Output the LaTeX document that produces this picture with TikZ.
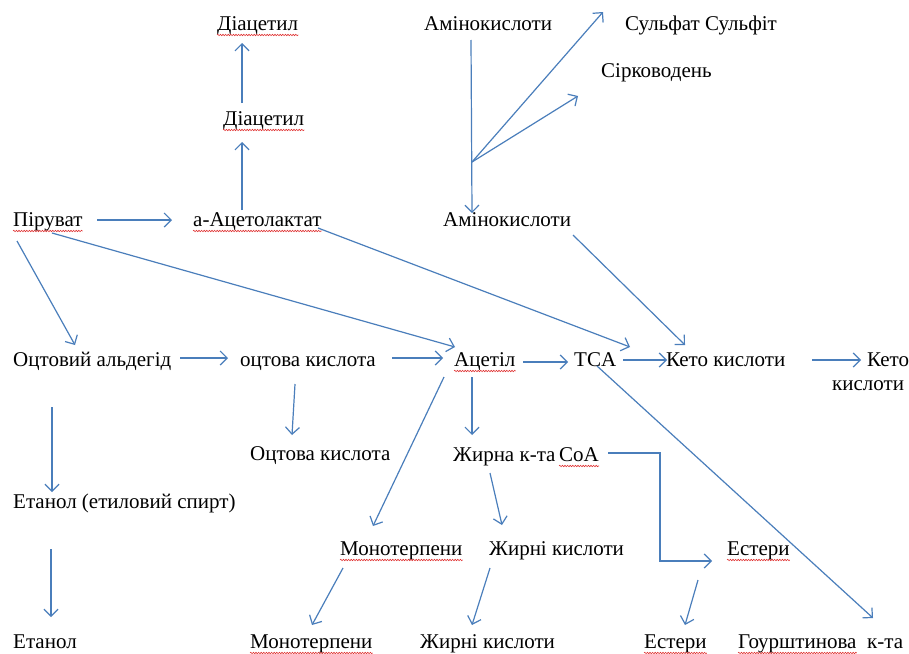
\documentclass[tikz,border=0pt]{standalone}
\usepackage{fontspec}
\setmainfont{Liberation Serif}
\usetikzlibrary{arrows.meta,decorations.pathmorphing}
\definecolor{linkblue}{HTML}{4A7EBB}
\definecolor{spellred}{HTML}{E03030}
\begin{document}
\begin{tikzpicture}[x=1pt,y=-1pt,
  lbl/.style={anchor=base west,inner sep=0pt,font=\fontsize{21}{24}\selectfont},
  link/.style={draw=linkblue,line width=1.2pt},
  arr/.style={link,-{Straight Barb[length=7pt,width=14pt]}},
  spell/.style={draw=spellred,line width=0.6pt,decorate,
    decoration={snake,amplitude=0.7pt,segment length=2.6pt}}]
\newcommand\spellmark[1]{\draw[spell] ([shift={(0,5)}]#1.base west) -- ([shift={(0,5)}]#1.base east);}
\fill[white] (0,0) rectangle (909,653);
\useasboundingbox (0,0) rectangle (909,653);

% labels
\node[lbl] (dia1)  at (217,30)  {Діацетил};
\node[lbl] (dia2)  at (223,125) {Діацетил};
\node[lbl] (pyr)   at (13,226)  {Піруват};
\node[lbl] (acl)   at (193,226) {а-Ацетолактат};
\node[lbl] (ami1)  at (424,30)  {Амінокислоти};
\node[lbl] (sulf)  at (625,30)  {Сульфат Сульфіт};
\node[lbl] (h2s)   at (601,77)  {Сірководень};
\node[lbl] (ami2)  at (443,226) {Амінокислоти};
\node[lbl] (ald)   at (13,366)  {Оцтовий альдегід};
\node[lbl] (aac)   at (240,366) {оцтова кислота};
\node[lbl] (acet)  at (454,366) {Ацетіл};
\node[lbl] (tca)   at (574,366) {TCA};
\node[lbl] (keto1) at (666,366) {Кето кислоти};
\node[lbl] (keto2a) at (867,366) {Кето};
\node[lbl] (keto2b) at (832,390) {кислоти};
\node[lbl] (aac2)  at (250,460) {Оцтова кислота};
\node[lbl] (fcoa)  at (453,461) {Жирна к-та};
\node[lbl] (coa)   at (559,461) {СоА};
\node[lbl] (eth1)  at (13,508)  {Етанол (етиловий спирт)};
\node[lbl] (mono1) at (340,555) {Монотерпени};
\node[lbl] (fa1)   at (489,555) {Жирні кислоти};
\node[lbl] (est1)  at (727,555) {Естери};
\node[lbl] (eth2)  at (13,648)  {Етанол};
\node[lbl] (mono2) at (250,648) {Монотерпени};
\node[lbl] (fa2)   at (420,648) {Жирні кислоти};
\node[lbl] (est2)  at (644,648) {Естери};
\node[lbl] (hour)  at (738,648) {Гоурштинова};
\node[lbl] (hourb) at (867,648) {к-та};

% wavy spelling marks
\spellmark{dia1}
\spellmark{dia2}
\spellmark{pyr}
\spellmark{acl}
\spellmark{acet}
\spellmark{coa}
\spellmark{mono1}
\spellmark{mono2}
\spellmark{est1}
\spellmark{est2}
\spellmark{hour}

% connectors
\draw[arr] ([shift={(19,-22)}]dia2.base west) -- ([shift={(25,13)}]dia1.base west);
\draw[arr] ([shift={(49,-16)}]acl.base west) -- ([shift={(19,17)}]dia2.base west);
\draw[arr] ([shift={(84,-6)}]pyr.base west) -- ([shift={(-21,-6)}]acl.base west);
\draw[arr] ([shift={(47,10)}]ami1.base west) -- ([shift={(29,-13)}]ami2.base west);
\coordinate (fork) at ([shift={(48,132)}]ami1.base west);
\draw[arr] (fork) -- ([shift={(-22,-18)}]sulf.base west);
\draw[arr] (fork) -- ([shift={(-23,19)}]h2s.base west);
\draw[arr] ([shift={(130,9)}]ami2.base west) -- ([shift={(19,-21)}]keto1.base west);
\draw[arr] ([shift={(125,2)}]acl.base west) -- ([shift={(56,-19)}]tca.base west);
\draw[arr] ([shift={(39,7)}]pyr.base west) -- ([shift={(1,-19)}]acet.base west);
\draw[arr] ([shift={(4,15)}]pyr.base west) -- ([shift={(62,-21)}]ald.base west);
\draw[arr] ([shift={(167,-8)}]ald.base west) -- ([shift={(-12,-8)}]aac.base west);
\draw[arr] ([shift={(152,-8)}]aac.base west) -- ([shift={(-11,-8)}]acet.base west);
\draw[arr] ([shift={(69,-4)}]acet.base west) -- ([shift={(-6,-4)}]tca.base west);
\draw[arr] ([shift={(49,-6)}]tca.base west) -- ([shift={(1,-6)}]keto1.base west);
\draw[arr] ([shift={(146,-6)}]keto1.base west) -- ([shift={(-6,-6)}]keto2a.base west);
\draw[arr] ([shift={(55,18)}]aac.base west) -- ([shift={(42,-25)}]aac2.base west);
\draw[arr] ([shift={(39,41)}]ald.base west) -- ([shift={(39,-16)}]eth1.base west);
\draw[arr] ([shift={(38,41)}]eth1.base west) -- ([shift={(38,-31)}]eth2.base west);
\draw[arr] ([shift={(-10,11)}]acet.base west) -- ([shift={(33,-29)}]mono1.base west);
\draw[arr] ([shift={(3,13)}]mono1.base west) -- ([shift={(62,-23)}]mono2.base west);
\draw[arr] ([shift={(18,11)}]acet.base west) -- ([shift={(19,-26)}]fcoa.base west);
\draw[arr] ([shift={(49,-8)}]coa.base west) -- ++(52,0) |- ([shift={(-15,6)}]est1.base west);
\draw[arr] ([shift={(37,12)}]fcoa.base west) -- ([shift={(13,-30)}]fa1.base west);
\draw[arr] ([shift={(1,13)}]fa1.base west) -- ([shift={(52,-23)}]fa2.base west);
\draw[arr] ([shift={(-29,25)}]est1.base west) -- ([shift={(41,-23)}]est2.base west);
\draw[arr] ([shift={(23,0)}]tca.base west) -- ([shift={(135,-30)}]hour.base west);
\end{tikzpicture}
\end{document}
